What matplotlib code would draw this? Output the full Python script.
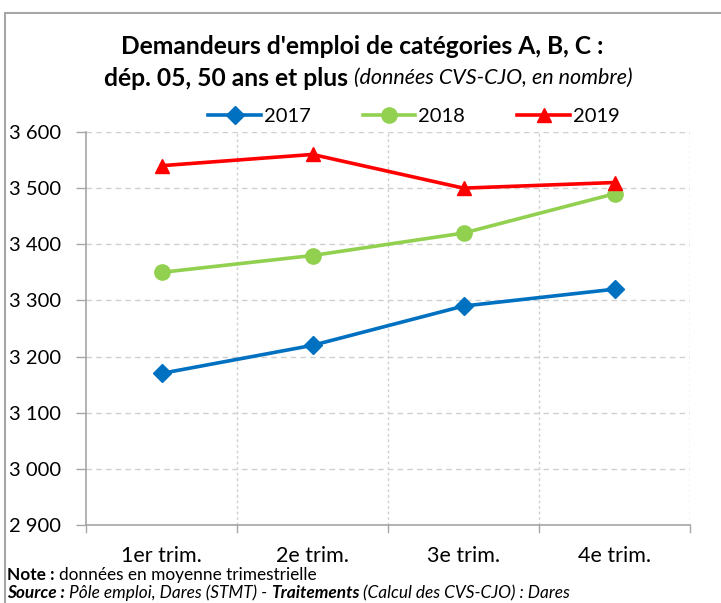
import matplotlib
matplotlib.use("Agg")
import matplotlib.pyplot as plt
from matplotlib.patches import Rectangle

plt.rcParams['font.family'] = ['Lato', 'DejaVu Sans']

categories = ["1er trim.", "2e trim.", "3e trim.", "4e trim."]
series_names = ["2017", "2018", "2019"]
v2017 = [3170, 3220, 3290, 3320]
v2018 = [3350, 3380, 3420, 3490]
v2019 = [3540, 3560, 3500, 3510]
y_ticks = [2900, 3000, 3100, 3200, 3300, 3400, 3500, 3600]
y_tick_labels = ["2 900", "3 000", "3 100", "3 200", "3 300", "3 400", "3 500", "3 600"]

colors = ["#0070C0", "#92D050", "#FF0000"]
markers = ["D", "o", "^"]
msizes = [9, 11, 10]

W, H = 721, 603
fig = plt.figure(figsize=(W / 100, H / 100), dpi=100)

# outer frame (cropped chart area)
fig.patches.append(Rectangle((5 / W, -0.1), 2, (1 - 13 / H) + 0.1, transform=fig.transFigure,
                             fill=False, edgecolor="#A6A6A6", linewidth=1.5))

ax = fig.add_axes([86 / W, 1 - 525 / H, (690 - 86) / W, (525 - 132) / H])
x = list(range(len(categories)))
for vals, name, c, m, ms in zip([v2017, v2018, v2019], series_names, colors, markers, msizes):
    ax.plot(x, vals, color=c, marker=m, markersize=ms, linewidth=2.6, label=name,
            solid_joinstyle="round", zorder=3)

ax.set_xlim(-0.5, len(categories) - 0.5)
ax.set_ylim(2900, 3600)
ax.set_yticks(y_ticks)
ax.set_yticklabels(y_tick_labels)
ax.set_xticks(x)
ax.set_xticklabels(categories)
ax.tick_params(axis="x", length=0, pad=15, labelsize=15.5)
ax.tick_params(axis="y", length=7, color="#A6A6A6", width=1, labelsize=14.5, pad=11)

# horizontal grid
for yt in y_ticks[1:]:
    ax.axhline(yt, color="#D0D0D0", linestyle=(0, (4, 3)), linewidth=1, zorder=1)
# vertical grid at category boundaries
for xb in [0.5, 1.5, 2.5, 3.5]:
    ax.axvline(xb, color="#D0D0D0", linestyle=(0, (2, 2)), linewidth=1, zorder=1)
# bottom ticks at boundaries
for xb in [-0.5, 0.5, 1.5, 2.5, 3.5]:
    ax.plot([xb, xb], [0, -0.018], transform=ax.get_xaxis_transform(), color="#A6A6A6",
            linewidth=1, clip_on=False)

for s in ["top", "right"]:
    ax.spines[s].set_visible(False)
ax.spines["left"].set_color("#A6A6A6")
ax.spines["bottom"].set_color("#A6A6A6")
ax.spines["left"].set_linewidth(1.2)
ax.spines["bottom"].set_linewidth(1.2)

leg = ax.legend(loc="center", bbox_to_anchor=((414 - 86) / (690 - 86), (525 - 116) / (525 - 132)),
                ncol=3, frameon=False, fontsize=14.5, handlelength=2.6, columnspacing=2.6,
                handletextpad=0.15, borderaxespad=0)

# title
fig.text(362 / W, 1 - 46 / H, "Demandeurs d'emploi de catégories A, B, C :", ha="center", va="center",
         fontsize=17.7, fontweight="bold")

renderer = fig.canvas.get_renderer()

def rich_line(parts, xstart, ypix):
    xpos = xstart
    for txt, weight, style, fs in parts:
        t = fig.text(xpos / W, 1 - ypix / H, txt, ha="left", va="center", fontsize=fs,
                     fontweight=weight, fontstyle=style)
        bb = t.get_window_extent(renderer=renderer)
        xpos = bb.x1
    return xpos

parts2 = [("dép. 05, 50 ans et plus ", "bold", "normal", 17.7),
          ("(données CVS-CJO, en nombre)", "normal", "italic", 15.5)]
tmp_total = 0
for txt, weight, style, fs in parts2:
    t = fig.text(0, 0, txt, fontsize=fs, fontweight=weight, fontstyle=style)
    tmp_total += t.get_window_extent(renderer=renderer).width
    t.remove()
rich_line(parts2, 368 - tmp_total / 2, 78)

rich_line([("Note : ", "bold", "normal", 12.4), ("données en moyenne trimestrielle", "normal", "normal", 12.4)],
          7, 575)
rich_line([("Source : ", "bold", "italic", 12.4), ("Pôle emploi, Dares (STMT) - ", "normal", "italic", 12.4),
           ("Traitements", "bold", "italic", 12.4), (" (Calcul des CVS-CJO) : Dares", "normal", "italic", 12.4)],
          7, 593)

fig.savefig("out.png", dpi=100)
